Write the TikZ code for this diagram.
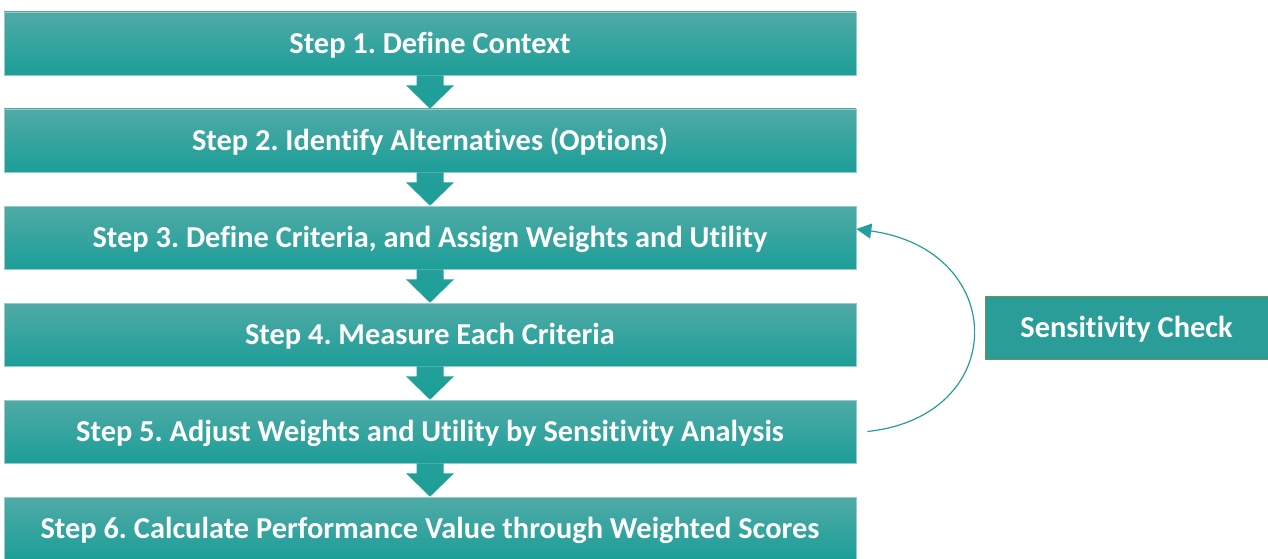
\documentclass[tikz,border=0pt]{standalone}
\usepackage{fontspec}
\setmainfont{Carlito}[Ligatures=NoCommon]
\usetikzlibrary{arrows.meta}
\frenchspacing
\definecolor{tealtop}{RGB}{80,170,166}
\definecolor{tealbot}{RGB}{28,158,152}
\definecolor{tealedge}{RGB}{150,205,202}
\definecolor{checkfill}{RGB}{42,157,152}
\definecolor{checkedge}{RGB}{110,150,70}
\definecolor{loopline}{RGB}{38,158,153}
\tikzset{
	stepbox/.style={top color=tealtop, bottom color=tealbot, draw=tealedge, line width=0.6pt,
		minimum width=852pt, minimum height=63pt, text=white, text height=19.6pt, text depth=0pt,
		font=\fontsize{30.4}{36}\selectfont\bfseries},
	checkbox/.style={fill=checkfill, draw=checkedge, line width=1pt,
		minimum width=283pt, minimum height=63pt, text=white, text height=19.6pt, text depth=0pt,
		font=\fontsize{30.4}{36}\selectfont\bfseries},
	blockarrow/.style={top color=tealbot!85!tealtop, bottom color=tealbot},
}
\begin{document}
\begin{tikzpicture}[x=1pt, y=-1pt]
	\useasboundingbox (0,0) rectangle (1268,559);
	
	%steps
	\node[stepbox] (s1) at (430, 43.5) {Step 1. Define Context};
	\node[stepbox] (s2) at (430, 140.5) {Step 2. Identify Alternatives (Options)};
	\node[stepbox] (s3) at (430, 237.5) {Step 3. Define Criteria, and Assign Weights and Utility};
	\node[stepbox] (s4) at (430, 334.5) {Step 4. Measure Each Criteria};
	\node[stepbox] (s5) at (430, 431.5) {Step 5. Adjust Weights and Utility by Sensitivity Analysis};
	\node[stepbox] (s6) at (430, 528.5) {Step 6. Calculate Performance Value through Weighted Scores};
	
	\node[checkbox] (check) at (1126.5, 327.5) {Sensitivity Check};
	
	%down arrows
	\foreach \i/\j in {1/2, 2/3, 3/4, 4/5, 5/6}{
		\shade[blockarrow] ([xshift=-13.5pt]s\i.south) -- ([xshift=13.5pt]s\i.south)
			-- ([xshift=13.5pt, yshift=-10pt]s\i.south) -- ([xshift=24pt, yshift=-10pt]s\i.south)
			-- (s\j.north) -- ([xshift=-24pt, yshift=-10pt]s\i.south)
			-- ([xshift=-13.5pt, yshift=-10pt]s\i.south) -- cycle;
	}
	
	%feedback loop
	\draw[loopline, line width=1.2pt, -{Triangle[length=15pt, width=15pt]}]
		([xshift=11pt]s5.east) .. controls +(143,-15) and +(153,21) .. ([yshift=8.5pt]s3.east);
\end{tikzpicture}
\end{document}
